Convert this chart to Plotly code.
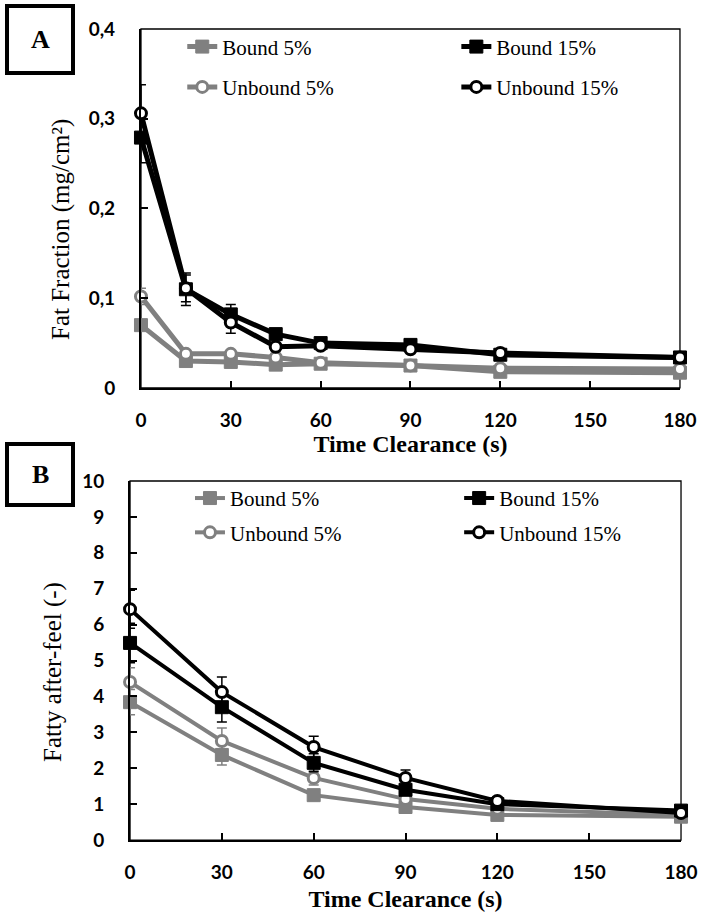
import plotly.graph_objects as go

# ---------------- Data ----------------
time_a = [0, 15, 30, 45, 60, 90, 120, 180]
bound5_a = [0.070, 0.030, 0.029, 0.026, 0.027, 0.025, 0.018, 0.017]
unbound5_a = [0.102, 0.038, 0.038, 0.034, 0.028, 0.025, 0.022, 0.021]
bound15_a = [0.279, 0.110, 0.082, 0.060, 0.050, 0.048, 0.037, 0.034]
unbound15_a = [0.306, 0.111, 0.073, 0.046, 0.047, 0.043, 0.039, 0.034]
err_bound5_a = [0.004, 0.002, 0.002, 0.002, 0.002, 0.002, 0.002, 0.002]
err_unbound5_a = [0.009, 0.003, 0.003, 0.003, 0.002, 0.002, 0.002, 0.002]
err_bound15_a = [0.028, 0.018, 0.011, 0.004, 0.003, 0.003, 0.002, 0.002]
err_unbound15_a = [0.032, 0.015, 0.012, 0.004, 0.004, 0.003, 0.003, 0.003]

time_b = [0, 30, 60, 90, 120, 180]
bound5_b = [3.84, 2.37, 1.25, 0.92, 0.70, 0.65]
unbound5_b = [4.40, 2.76, 1.73, 1.14, 0.87, 0.70]
bound15_b = [5.49, 3.70, 2.15, 1.40, 1.00, 0.82]
unbound15_b = [6.43, 4.12, 2.59, 1.73, 1.09, 0.75]
err_bound5_b = [0.35, 0.28, 0.15, 0.10, 0.08, 0.06]
err_unbound5_b = [0.40, 0.36, 0.20, 0.12, 0.08, 0.06]
err_bound15_b = [0.55, 0.41, 0.25, 0.15, 0.10, 0.08]
err_unbound15_b = [0.53, 0.42, 0.30, 0.22, 0.10, 0.08]

names = ["Bound 5%", "Unbound 5%", "Bound 15%", "Unbound 15%"]
x_ticks = [0, 30, 60, 90, 120, 150, 180]
ya_ticks = [0, 0.1, 0.2, 0.3, 0.4]
yb_ticks = list(range(0, 11))
x_title = "Time Clearance (s)"
ya_title = "Fat Fraction (mg/cm²)"
yb_title = "Fatty after-feel (-)"

GRAY = "#808080"
BLACK = "#000000"
SERIF = "Liberation Serif"
SANS = "Lato"

fig = go.Figure()


def add_series(x, y, err, name, color, filled, xa, ya, legend, lw):
    if filled:
        marker = dict(symbol="square", size=13, color=color, line=dict(color=color, width=1))
    else:
        marker = dict(symbol="circle", size=11, color="white", line=dict(color=color, width=3))
    fig.add_trace(go.Scatter(
        x=x, y=y, name=name, mode="lines+markers",
        line=dict(color=color, width=lw), marker=marker,
        error_y=dict(type="data", array=err, color=color, thickness=1.5, width=5),
        xaxis=xa, yaxis=ya, legend=legend, legendgroup=name + xa,
        cliponaxis=False,
    ))


# Panel A
add_series(time_a, bound5_a, err_bound5_a, names[0], GRAY, True, "x", "y", "legend", 5)
add_series(time_a, unbound5_a, err_unbound5_a, names[1], GRAY, False, "x", "y", "legend", 5)
add_series(time_a, bound15_a, err_bound15_a, names[2], BLACK, True, "x", "y", "legend2", 5)
add_series(time_a, unbound15_a, err_unbound15_a, names[3], BLACK, False, "x", "y", "legend2", 5)
# Panel B
add_series(time_b, bound5_b, err_bound5_b, names[0], GRAY, True, "x2", "y2", "legend3", 4)
add_series(time_b, unbound5_b, err_unbound5_b, names[1], GRAY, False, "x2", "y2", "legend3", 4)
add_series(time_b, bound15_b, err_bound15_b, names[2], BLACK, True, "x2", "y2", "legend4", 4)
add_series(time_b, unbound15_b, err_unbound15_b, names[3], BLACK, False, "x2", "y2", "legend4", 4)

tickfont = dict(family=SANS, size=19, color="black", weight="bold")
xtitlefont = dict(family=SERIF, size=24, color="black", weight="bold")
ytitlefont = dict(family=SERIF, size=25, color="black")

common_x = dict(range=[0, 180], tickvals=x_ticks, ticks="inside", ticklen=7, tickwidth=1.5,
                tickcolor="black", showline=True, linecolor="black", linewidth=2,
                showgrid=False, zeroline=False, tickfont=tickfont, ticklabelstandoff=14,
                automargin=False)
common_y = dict(ticks="inside", ticklen=7, tickwidth=1.5, tickcolor="black", showline=True,
                linecolor="black", linewidth=2, showgrid=False, zeroline=False,
                tickfont=tickfont, ticklabelstandoff=20, automargin=False)

legend_common = dict(font=dict(family=SERIF, size=21, color="black"), bgcolor="rgba(0,0,0,0)",
                     orientation="v", xanchor="left", yanchor="top", itemclick=False,
                     itemdoubleclick=False, traceorder="grouped")

fig.update_layout(
    width=701, height=912,
    margin=dict(l=0, r=0, t=0, b=0, autoexpand=False),
    paper_bgcolor="white", plot_bgcolor="white",
    separators=", ",
    xaxis=dict(domain=[0.2011, 0.9700], anchor="y",
               title=dict(text=x_title, font=xtitlefont, standoff=2), **common_x),
    yaxis=dict(domain=[0.5746, 0.9682], anchor="x", range=[0, 0.4], tickvals=ya_ticks,
               **common_y),
    xaxis2=dict(domain=[0.1855, 0.9715], anchor="y2",
                title=dict(text=x_title, font=xtitlefont, standoff=14), **common_x),
    yaxis2=dict(domain=[0.0789, 0.4726], anchor="x2", range=[0, 10], tickvals=yb_ticks,
                **common_y),
    legend=dict(x=0.260, y=0.971, tracegroupgap=10, **legend_common),
    legend2=dict(x=0.651, y=0.971, tracegroupgap=10, **legend_common),
    legend3=dict(x=0.271, y=0.476, tracegroupgap=4, **legend_common),
    legend4=dict(x=0.655, y=0.476, tracegroupgap=4, **legend_common),
    showlegend=True,
)

W, H = 701, 912
# y-axis titles (rotated text)
for text, (cx, cy) in [(ya_title, (61, 230)), (yb_title, (53, 672))]:
    fig.add_annotation(text=text, xref="paper", yref="paper", x=cx / W, y=1 - cy / H,
                       showarrow=False, textangle=-90, xanchor="center", yanchor="middle",
                       font=ytitlefont)

# plot-area frames
for xr, yr in [("x domain", "y domain"), ("x2 domain", "y2 domain")]:
    fig.add_shape(type="rect", xref=xr, yref=yr, x0=0, x1=1, y0=0, y1=1,
                  line=dict(color="black", width=1.3), layer="below")

# panel label boxes
for label, (x0, x1, y0, y1) in [("A", (7, 73, 6, 73)), ("B", (7, 73, 444, 505))]:
    fig.add_shape(type="rect", xref="paper", yref="paper",
                  x0=x0 / W, x1=x1 / W, y0=1 - y1 / H, y1=1 - y0 / H,
                  line=dict(color="black", width=4), fillcolor="white")
    fig.add_annotation(text=label, xref="paper", yref="paper",
                       x=(x0 + x1) / 2 / W, y=1 - (y0 + y1) / 2 / H,
                       showarrow=False, xanchor="center", yanchor="middle",
                       font=dict(family=SERIF, size=26, color="black", weight="bold"))

fig.write_html(
    "out.html",
    config={"displayModeBar": False},
    post_script="document.body.style.margin='0';document.body.style.overflow='hidden';",
)
